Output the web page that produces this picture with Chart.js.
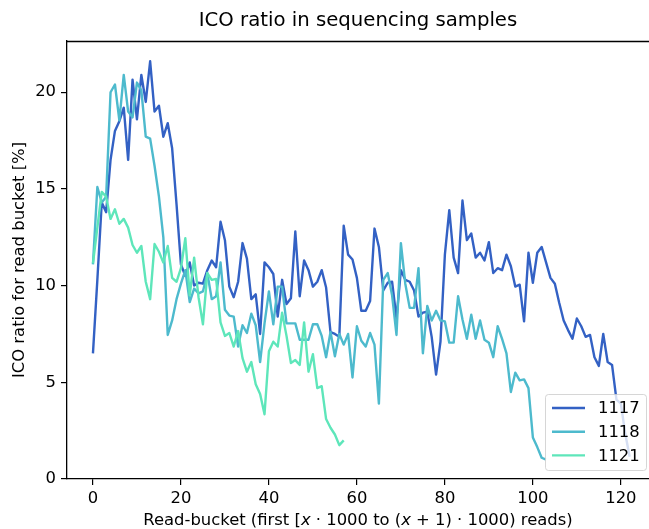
<!DOCTYPE html>
<html>
<head>
<meta charset="utf-8">
<script src="https://cdn.jsdelivr.net/npm/chart.js@4/dist/chart.umd.min.js"></script>
<style>
  html, body { margin: 0; padding: 0; background: #fff; }
  #wrap { width: 649px; height: 529px; }
</style>
</head>
<body>
<div id="wrap"><canvas id="chart" width="649" height="529"></canvas></div>
<script>
// data (one value per read bucket)
var seriesNames = ["1117", "1118", "1121"];
var seriesColors = ["#3361c4", "#4dbacd", "#5ee6ba"];

var s1117 = [6.5, 10.3, 14.3, 13.8, 16.5, 18.0, 18.5, 19.2, 16.5, 20.65,
  18.6, 20.9, 19.5, 21.6, 19.0, 19.3, 17.7, 18.4, 17.1, 14.2,
  11.1, 10.5, 11.2, 10.0, 10.15, 10.1, 10.8, 11.3, 10.95, 13.3,
  12.35, 9.95, 9.4, 10.2, 12.2, 11.4, 9.3, 9.55, 7.5, 11.2,
  10.95, 10.6, 8.4, 10.3, 9.05, 9.35, 12.8, 9.45, 11.3, 10.8,
  9.95, 10.2, 10.8, 9.9, 7.6, 7.5, 7.35, 13.1, 11.6, 11.35,
  10.4, 8.7, 8.7, 9.2, 12.95, 12.0, 9.75, 10.15, 10.2, 8.3,
  10.8, 10.3, 10.2, 9.75, 8.4, 8.6, 8.65, 7.35, 5.4, 7.1,
  11.6, 13.9, 11.45, 10.65, 14.4, 12.35, 12.7, 11.45, 11.7, 11.3,
  12.25, 10.65, 10.9, 10.8, 11.6, 11.0, 9.95, 10.05, 8.15, 11.7,
  10.15, 11.7, 12.0, 11.2, 10.4, 10.1, 9.1, 8.2, 7.7, 7.25,
  8.3, 7.9, 7.35, 7.45, 6.3, 5.85, 7.5, 6.05, 5.9, 4.1,
  3.9, 2.35, 1.15];

var s1118 = [11.1, 15.1, 14.3, 14.6, 20.0, 20.4, 18.55, 20.9, 19.0, 18.7,
  20.5, 20.1, 17.7, 17.6, 16.2, 14.6, 12.5, 7.45, 8.2, 9.3,
  10.1, 10.8, 9.15, 9.85, 9.6, 9.7, 10.65, 9.3, 9.45, 11.2,
  8.75, 8.45, 8.4, 6.85, 7.95, 7.55, 8.55, 7.95, 6.05, 8.05,
  9.7, 8.0, 9.95, 9.95, 8.05, 8.05, 8.05, 7.2, 7.2, 7.2,
  8.0, 8.0, 7.4, 6.3, 7.6, 6.35, 7.5, 6.95, 7.5, 5.25,
  7.9, 7.15, 6.85, 7.55, 6.95, 3.9, 10.3, 10.65, 9.5, 7.45,
  12.2, 10.1, 8.85, 8.85, 10.9, 6.5, 8.95, 8.2, 8.7, 8.2,
  8.15, 7.05, 7.05, 9.45, 8.25, 7.25, 8.5, 7.25, 8.2, 7.2,
  7.05, 6.3, 7.9, 7.25, 6.5, 4.5, 5.5, 5.1, 5.15, 4.7,
  2.15, 1.65, 1.1, 1.0];

var s1121 = [11.15, 13.0, 14.85, 14.6, 13.45, 13.95, 13.2, 13.45, 13.0, 12.1,
  11.7, 12.05, 10.2, 9.3, 12.15, 11.75, 11.2, 12.05, 10.4, 10.2,
  10.9, 12.45, 9.5, 11.45, 9.4, 8.0, 10.65, 10.3, 10.35, 8.1,
  7.4, 7.55, 6.85, 7.65, 6.25, 5.55, 6.05, 4.9, 4.4, 3.35,
  6.6, 7.1, 6.85, 8.6, 7.4, 6.0, 6.15, 5.9, 8.1, 5.55,
  6.45, 4.7, 4.8, 3.1, 2.65, 2.3, 1.75, 2.0];

var xTicks = [0, 20, 40, 60, 80, 100, 120];
var yTicks = [0, 5, 10, 15, 20];

var titleText = "ICO ratio in sequencing samples";
var yLabel = "ICO ratio for read bucket [%]";

var FONT = "'DejaVu Sans', sans-serif";
var FS = 16.4;

function toPoints(arr) {
  return arr.map(function (v, i) { return { x: i, y: v }; });
}

var allSeries = [s1117, s1118, s1121];
var datasets = allSeries.map(function (s, i) {
  return {
    label: seriesNames[i],
    data: toPoints(s),
    borderColor: seriesColors[i],
    backgroundColor: seriesColors[i],
    borderWidth: 2.4,
    pointRadius: 0,
    borderJoinStyle: "round",
    tension: 0,
    order: allSeries.length - i   // first series drawn first, like matplotlib
  };
});

// texts, frame and legend around the plot
var decor = {
  id: "decor",
  afterDraw: function (chart) {
    var ctx = chart.ctx;
    var a = chart.chartArea;
    ctx.save();

    // top spine
    ctx.strokeStyle = "#000";
    ctx.lineWidth = 1.3;
    ctx.beginPath();
    ctx.moveTo(a.left, a.top + 0.5);
    ctx.lineTo(a.right, a.top + 0.5);
    ctx.stroke();

    var cx = 358;
    ctx.fillStyle = "#000";

    // title
    ctx.font = "19.7px " + FONT;
    ctx.textAlign = "center";
    ctx.textBaseline = "alphabetic";
    ctx.fillText(titleText, cx, 26);

    // y label
    ctx.save();
    ctx.font = FS + "px " + FONT;
    ctx.translate(20, (a.top + a.bottom) / 2);
    ctx.rotate(-Math.PI / 2);
    ctx.textAlign = "center";
    ctx.textBaseline = "middle";
    ctx.fillText(yLabel, 0, 0);
    ctx.restore();

    // x label with italic x
    var parts = [
      ["Read-bucket (first [", false],
      ["x", true],
      [" \u00b7 1000 to (", false],
      ["x", true],
      [" + 1) \u00b7 1000) reads)", false]
    ];
    var w = 0;
    parts.forEach(function (p) {
      ctx.font = (p[1] ? "italic " : "") + FS + "px " + FONT;
      p.push(ctx.measureText(p[0]).width);
      w += p[2];
    });
    var x = cx - w / 2;
    ctx.textAlign = "left";
    ctx.textBaseline = "alphabetic";
    parts.forEach(function (p) {
      ctx.font = (p[1] ? "italic " : "") + FS + "px " + FONT;
      ctx.fillText(p[0], x, 525);
      x += p[2];
    });

    // legend box, lower right
    var lx = 545.5, ly = 394.5, lw = 101, lh = 76;
    ctx.beginPath();
    ctx.roundRect(lx, ly, lw, lh, 3);
    ctx.fillStyle = "rgba(255,255,255,0.8)";
    ctx.fill();
    ctx.strokeStyle = "rgba(204,204,204,0.8)";
    ctx.lineWidth = 1;
    ctx.stroke();
    ctx.font = FS + "px " + FONT;
    ctx.textBaseline = "middle";
    ctx.textAlign = "left";
    seriesNames.forEach(function (name, i) {
      var yy = 408 + i * 23.7;
      ctx.strokeStyle = seriesColors[i];
      ctx.lineWidth = 2.4;
      ctx.beginPath();
      ctx.moveTo(552, yy);
      ctx.lineTo(585, yy);
      ctx.stroke();
      ctx.fillStyle = "#000";
      ctx.fillText(name, 598, yy + 1);
    });

    ctx.restore();
  }
};

new Chart(document.getElementById("chart"), {
  type: "line",
  data: { datasets: datasets },
  options: {
    responsive: false,
    animation: false,
    devicePixelRatio: 1,
    layout: { padding: { left: 0, top: 41, right: 0, bottom: 0 } },
    plugins: {
      legend: { display: false },
      tooltip: { enabled: false }
    },
    scales: {
      x: {
        type: "linear",
        min: -5.9,
        max: 126.4,
        afterFit: function (s) { s.height = 50; },
        afterBuildTicks: function (s) {
          s.ticks = xTicks.map(function (v) { return { value: v }; });
        },
        ticks: {
          color: "#000",
          font: { family: FONT, size: FS },
          padding: 4,
          maxRotation: 0
        },
        grid: { drawOnChartArea: false, drawTicks: true, tickLength: 6, color: "#000", lineWidth: 1.2 },
        border: { display: true, color: "#000", width: 1.3 }
      },
      y: {
        min: 0,
        max: 22.65,
        afterFit: function (s) { s.width = 67; },
        afterBuildTicks: function (s) {
          s.ticks = yTicks.map(function (v) { return { value: v }; });
        },
        ticks: {
          color: "#000",
          font: { family: FONT, size: FS },
          padding: 5
        },
        grid: { drawOnChartArea: false, drawTicks: true, tickLength: 6, color: "#000", lineWidth: 1.2 },
        border: { display: true, color: "#000", width: 1.3 }
      }
    }
  },
  plugins: [decor]
});
</script>
</body>
</html>
